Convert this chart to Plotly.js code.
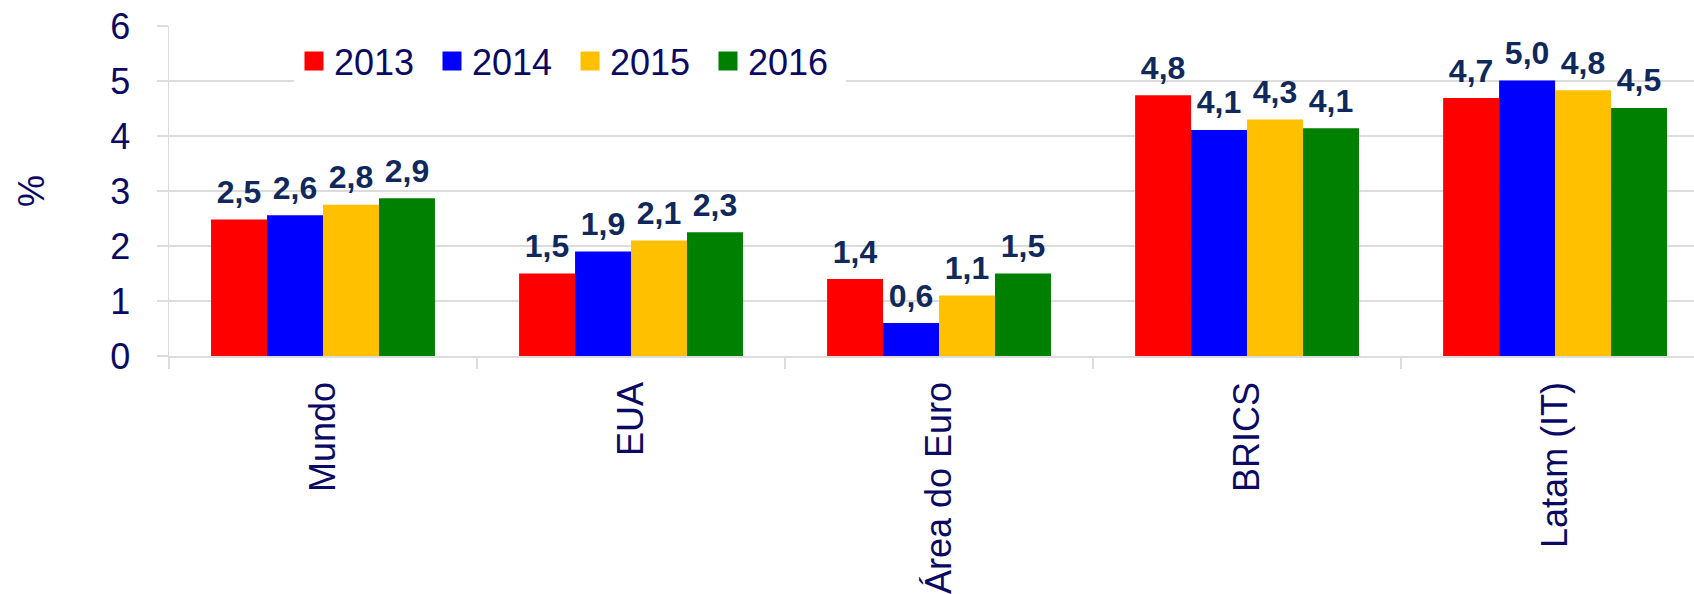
<!DOCTYPE html>
<html>
<head>
<meta charset="utf-8">
<script src="https://cdn.plot.ly/plotly-3.0.1.min.js"></script>
<style>html,body{margin:0;padding:0;background:#fff;}#chart{width:1694px;height:594px;}</style>
</head>
<body>
<div id="chart"></div>
<script>
var categories = ['Mundo', 'EUA', 'Área do Euro', 'BRICS', 'Latam (IT)'];
var years = ['2013', '2014', '2015', '2016'];
// bar heights
var v2013 = [2.48, 1.50, 1.40, 4.74, 4.69];
var v2014 = [2.56, 1.90, 0.60, 4.11, 5.01];
var v2015 = [2.75, 2.10, 1.10, 4.30, 4.83];
var v2016 = [2.87, 2.25, 1.50, 4.14, 4.51];
// printed data labels
var l2013 = [2.5, 1.5, 1.4, 4.8, 4.7];
var l2014 = [2.6, 1.9, 0.6, 4.1, 5.0];
var l2015 = [2.8, 2.1, 1.1, 4.3, 4.8];
var l2016 = [2.9, 2.3, 1.5, 4.1, 4.5];
var yTicks = [0, 1, 2, 3, 4, 5, 6];

var colors = ['#FF0000', '#0000FF', '#FFC000', '#008000'];
var navy = '#0a0a64';
var labelNavy = '#10295c';
var grid = '#dcdcdc';
var font = 'Liberation Sans, Arial, sans-serif';

var values = [v2013, v2014, v2015, v2016];
var labels = [l2013, l2014, l2015, l2016];

function fmt(v) { return v.toFixed(1).replace('.', ','); }

var data = [];
years.forEach(function (yr, i) {
  data.push({
    type: 'bar', name: yr, x: categories, y: values[i],
    marker: {color: colors[i]}, showlegend: false, hoverinfo: 'skip'
  });
});
years.forEach(function (yr, i) {
  data.push({
    type: 'scatter', mode: 'markers+text', name: yr + ' labels',
    x: categories, y: values[i],
    text: labels[i].map(fmt), textposition: 'top center',
    textfont: {family: font, size: 32, color: labelNavy, weight: 'bold'},
    marker: {size: 12, color: 'rgba(0,0,0,0)', opacity: 0},
    showlegend: false, hoverinfo: 'skip', cliponaxis: false
  });
});
years.forEach(function (yr, i) {
  data.push({
    type: 'scatter', mode: 'markers', name: yr, x: [null], y: [null],
    xaxis: 'x2', yaxis: 'y2',
    marker: {symbol: 'square', size: 16, color: colors[i], line: {width: 3, color: colors[i]}},
    showlegend: true, hoverinfo: 'skip'
  });
});

var layout = {
  width: 1694, height: 594,
  margin: {l: 169, r: 0, t: 26, b: 238, pad: 0, autoexpand: false},
  paper_bgcolor: '#ffffff', plot_bgcolor: '#ffffff',
  barmode: 'group', bargap: 0.273, bargroupgap: 0,
  scattermode: 'group', scattergap: 0.273,
  font: {family: font, color: navy, size: 36},
  showlegend: true,
  legend: {
    orientation: 'h', xref: 'paper', yref: 'paper',
    x: (294 - 169) / 1525, xanchor: 'left', y: (356 - 61) / 330, yanchor: 'middle',
    bgcolor: '#ffffff', borderwidth: 0,
    font: {family: font, size: 36, color: navy},
    entrywidth: 93, entrywidthmode: 'pixels',
    itemclick: false, itemdoubleclick: false
  },
  xaxis: {
    type: 'category', range: [-0.5, 4.451], fixedrange: true,
    tickangle: -90, tickfont: {family: font, size: 36, color: navy},
    ticks: 'outside', ticklen: 11, tickcolor: grid, tickwidth: 1.5, tickson: 'boundaries',
    showgrid: false, showline: true, linecolor: grid, linewidth: 1.5,
    ticklabelstandoff: 10, automargin: false
  },
  yaxis: {
    range: [0, 6], tickvals: yTicks, ticktext: yTicks.map(String), fixedrange: true,
    tickfont: {family: font, size: 36, color: navy},
    ticks: 'outside', ticklen: 11, tickcolor: grid, tickwidth: 1.5,
    showgrid: true, gridcolor: grid, gridwidth: 1.5,
    showline: true, linecolor: grid, linewidth: 1.5, zeroline: false,
    ticklabelstandoff: 19, automargin: false,
    title: {text: '%', font: {family: font, size: 36, color: navy}, standoff: 54}
  },
  xaxis2: {overlaying: 'x', visible: false, fixedrange: true},
  yaxis2: {overlaying: 'y', visible: false, fixedrange: true}
};

Plotly.newPlot('chart', data, layout, {displayModeBar: false, staticPlot: true});
</script>
</body>
</html>
